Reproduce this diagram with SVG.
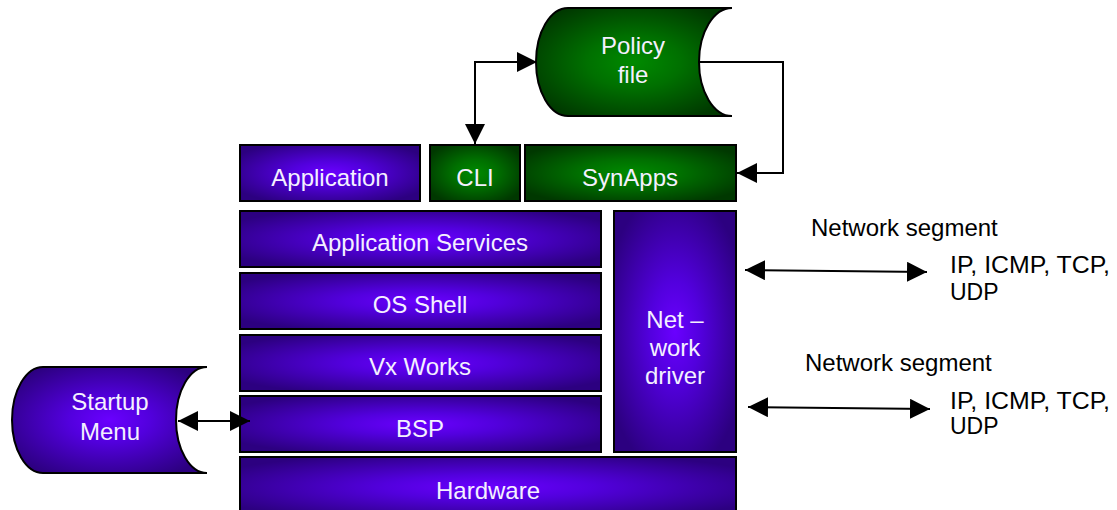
<svg xmlns="http://www.w3.org/2000/svg" width="1117" height="510" viewBox="0 0 1117 510">
<style>
.t{font-family:"Liberation Sans",Arial,sans-serif;font-size:24px;fill:#f4f0ff;text-anchor:middle}
.k{font-family:"Liberation Sans",Arial,sans-serif;fill:#000}
.p{fill:url(#gp);stroke:#000;stroke-width:2}
.g{fill:url(#gg);stroke:#000;stroke-width:2}
.c{fill:none;stroke:#000;stroke-width:2}
</style>
<defs>
<radialGradient id="gp" cx="0.5" cy="0.5" r="0.6">
<stop offset="0" stop-color="#6a00ff"/>
<stop offset="0.35" stop-color="#5200dd"/>
<stop offset="1" stop-color="#2c0080"/>
</radialGradient>
<radialGradient id="gg" cx="0.5" cy="0.5" r="0.6">
<stop offset="0" stop-color="#008a00"/>
<stop offset="0.4" stop-color="#007000"/>
<stop offset="1" stop-color="#003800"/>
</radialGradient>
<marker id="ah" viewBox="0 0 20 20" refX="20" refY="10" markerWidth="20" markerHeight="20" markerUnits="userSpaceOnUse" orient="auto-start-reverse">
<path d="M0,0 L20,10 L0,20 Z" fill="#000"/>
</marker>
</defs>
<rect width="1117" height="510" fill="#fff"/>

<g id="policy-file">
<path class="g" d="M568,8 H732 A33,54 0 0 0 732,116 H568 A32,54 0 0 1 568,8 Z"/>
<text class="t" x="633" y="54">Policy</text>
<text class="t" x="633" y="83">file</text>
</g>
<g id="application">
<rect class="p" x="240" y="145" width="180" height="56"/>
<text class="t" x="330" y="186">Application</text>
</g>
<g id="cli">
<rect class="g" x="430" y="145" width="90" height="56"/>
<text class="t" x="475" y="186">CLI</text>
</g>
<g id="synapps">
<rect class="g" x="525" y="145" width="211" height="56"/>
<text class="t" x="630" y="186">SynApps</text>
</g>
<g id="app-services">
<rect class="p" x="240" y="211" width="361" height="56"/>
<text class="t" x="420" y="251">Application Services</text>
</g>
<g id="os-shell">
<rect class="p" x="240" y="273" width="361" height="56"/>
<text class="t" x="420" y="313">OS Shell</text>
</g>
<g id="vxworks">
<rect class="p" x="240" y="335" width="361" height="56"/>
<text class="t" x="420" y="375">Vx Works</text>
</g>
<g id="bsp">
<rect class="p" x="240" y="396" width="361" height="56"/>
<text class="t" x="420" y="437">BSP</text>
</g>
<g id="hardware">
<rect class="p" x="240" y="457" width="496" height="60"/>
<text class="t" x="488" y="499">Hardware</text>
</g>
<g id="network-driver">
<rect class="p" x="614" y="211" width="122" height="241"/>
<text class="t" x="675" y="328">Net –</text>
<text class="t" x="675" y="356">work</text>
<text class="t" x="675" y="384">driver</text>
</g>
<g id="startup-menu">
<path class="p" d="M43,367 H207 A31,53 0 0 0 207,473 H43 A31,53 0 0 1 43,367 Z"/>
<text class="t" x="110" y="410">Startup</text>
<text class="t" x="110" y="440">Menu</text>
</g>
<g id="labels">
<text class="k" x="811" y="236" font-size="24">Network segment</text>
<text class="k" x="950" y="273" font-size="23" textLength="160" lengthAdjust="spacingAndGlyphs">IP, ICMP, TCP,</text>
<text class="k" x="950" y="300" font-size="23">UDP</text>
<text class="k" x="805" y="371" font-size="24">Network segment</text>
<text class="k" x="950" y="409" font-size="23" textLength="160" lengthAdjust="spacingAndGlyphs">IP, ICMP, TCP,</text>
<text class="k" x="950" y="434" font-size="23">UDP</text>
</g>
<g id="connectors">
<path class="c" d="M475,144 V62 H537" marker-start="url(#ah)" marker-end="url(#ah)"/>
<path class="c" d="M699,62 H783 V173 H737" marker-end="url(#ah)"/>
<path class="c" d="M178,421 H250" marker-start="url(#ah)" marker-end="url(#ah)"/>
<path class="c" d="M745,270 L927,272" marker-start="url(#ah)" marker-end="url(#ah)"/>
<path class="c" d="M748,407 L930,409" marker-start="url(#ah)" marker-end="url(#ah)"/>
</g>
</svg>
